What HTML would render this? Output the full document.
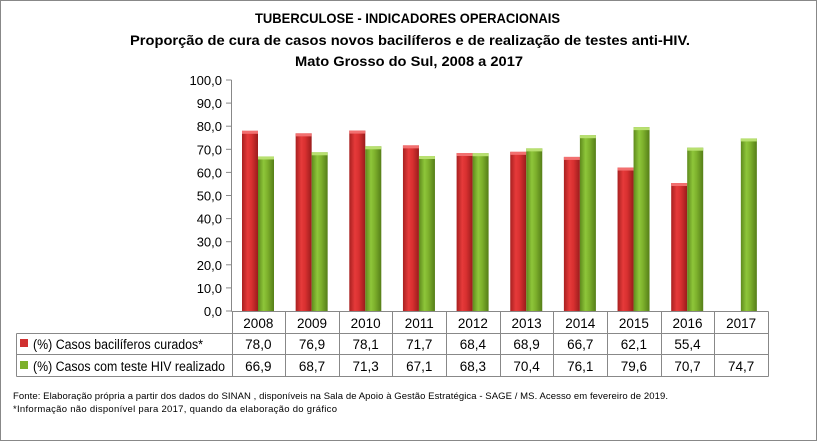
<!DOCTYPE html>
<html><head><meta charset="utf-8"><style>
body{margin:0;background:#fff}
svg{display:block;font-family:"Liberation Sans",sans-serif}
</style></head><body>
<svg width="818" height="442" viewBox="0 0 818 442" xmlns="http://www.w3.org/2000/svg">
<defs>
<linearGradient id="r" x1="0" x2="1" y1="0" y2="0"><stop offset="0" stop-color="#a82020"/><stop offset="0.35" stop-color="#e63a3a"/><stop offset="0.6" stop-color="#d83030"/><stop offset="1" stop-color="#9a1c1c"/></linearGradient>
<linearGradient id="g" x1="0" x2="1" y1="0" y2="0"><stop offset="0" stop-color="#5e8a1c"/><stop offset="0.35" stop-color="#8ec63a"/><stop offset="0.6" stop-color="#7db02c"/><stop offset="1" stop-color="#557e18"/></linearGradient>
</defs>
<rect x="0.5" y="0.5" width="816" height="440" fill="#fff" stroke="#888"/>
<g font-weight="bold" font-size="14" fill="#000">
<text x="255" y="23" textLength="305" lengthAdjust="spacingAndGlyphs">TUBERCULOSE - INDICADORES OPERACIONAIS</text>
<text x="130" y="45" textLength="560" lengthAdjust="spacingAndGlyphs">Proporção de cura de casos novos bacilíferos e de realização de testes anti-HIV.</text>
<text x="295" y="66" textLength="228" lengthAdjust="spacingAndGlyphs">Mato Grosso do Sul, 2008 a 2017</text>
</g>
<line x1="231.5" y1="80" x2="231.5" y2="311" stroke="#888"/>
<script>
const ns="http://www.w3.org/2000/svg";
const svg=document.querySelector('svg');
function el(t,a,txt){const e=document.createElementNS(ns,t);for(const k in a)e.setAttribute(k,a[k]);if(txt!=null)e.textContent=txt;svg.appendChild(e);return e;}
const y0=311,s=2.31,x0=231.5,cw=53.65;
for(let i=0;i<=10;i++){const y=y0-i*10*s;
 el('line',{x1:226,x2:231.5,y1:y,y2:y,stroke:'#888'});
 el('text',{x:222,y:y+5,'font-size':13,'text-anchor':'end'},(i*10).toFixed(1).replace('.',','));}
const yrs=[2008,2009,2010,2011,2012,2013,2014,2015,2016,2017];
const r=[78.0,76.9,78.1,71.7,68.4,68.9,66.7,62.1,55.4,null];
const g=[66.9,68.7,71.3,67.1,68.3,70.4,76.1,79.6,70.7,74.7];
yrs.forEach((yr,i)=>{const cx=x0+i*cw;
 if(r[i]!=null){const h=r[i]*s;el('rect',{x:cx+10.5,y:y0-h,width:16,height:h,fill:'url(#r)'});el('rect',{x:cx+10.5,y:y0-h,width:16,height:3,fill:'#f27070'});}
 const h=g[i]*s;el('rect',{x:cx+26.5,y:y0-h,width:16,height:h,fill:'url(#g)'});el('rect',{x:cx+26.5,y:y0-h,width:16,height:3,fill:'#b8e070'});
 el('text',{x:cx+cw/2,y:328,'font-size':13.5,'text-anchor':'middle'},yr);
 if(r[i]!=null)el('text',{x:cx+cw/2,y:349,'font-size':13.5,'text-anchor':'middle'},r[i].toFixed(1).replace('.',','));
 el('text',{x:cx+cw/2,y:371,'font-size':13.5,'text-anchor':'middle'},g[i].toFixed(1).replace('.',','));
});
const st={stroke:'#888',fill:'none'};
el('line',Object.assign({x1:16.5,x2:768.5,y1:333.5,y2:333.5},st));
el('line',Object.assign({x1:16.5,x2:768.5,y1:354.5,y2:354.5},st));
el('line',Object.assign({x1:16.5,x2:768.5,y1:376.5,y2:376.5},st));
el('line',Object.assign({x1:231.5,x2:768.5,y1:311.5,y2:311.5},st));
el('line',Object.assign({x1:16.5,x2:16.5,y1:333.5,y2:376.5},st));
for(let i=0;i<=10;i++){const x=Math.round(x0+i*cw)+0.5;el('line',Object.assign({x1:x,x2:x,y1:311.5,y2:376.5},st));}
el('rect',{x:20,y:339,width:8,height:8,fill:'#d03030'});
el('rect',{x:20,y:361,width:8,height:8,fill:'#7db02c'});
el('text',{x:33,y:349,'font-size':13.5,textLength:170,lengthAdjust:'spacingAndGlyphs'},'(%) Casos bacilíferos curados*');
el('text',{x:33,y:371,'font-size':13.5,textLength:192,lengthAdjust:'spacingAndGlyphs'},'(%) Casos com teste HIV realizado');
el('text',{x:13,y:399,'font-size':9.5,textLength:655},'Fonte: Elaboração própria a partir dos dados do SINAN , disponíveis na Sala de  Apoio  à Gestão Estratégica - SAGE / MS. Acesso em fevereiro de 2019.');
el('text',{x:13,y:412,'font-size':9.5,textLength:324},'*Informação não  disponível  para 2017,  quando da elaboração do gráfico');
</script>
</svg>
</body></html>
